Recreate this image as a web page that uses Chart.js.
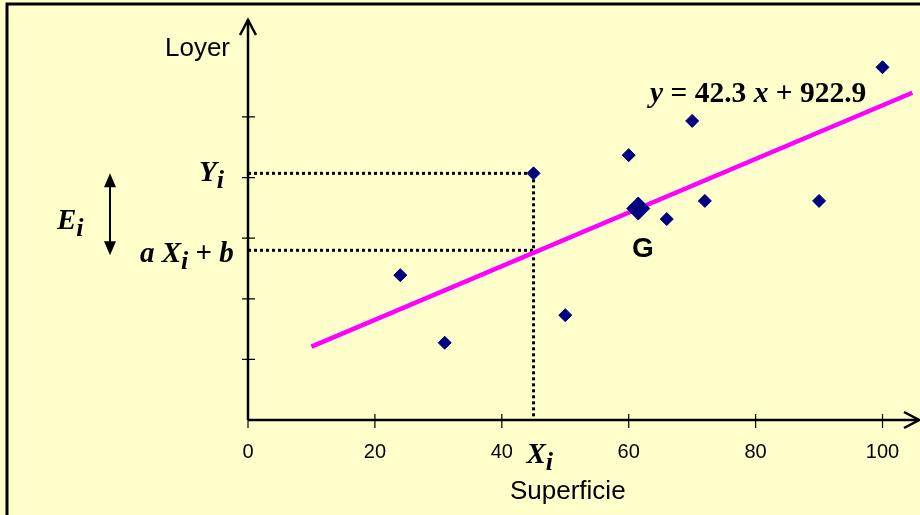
<!DOCTYPE html>
<html>
<head>
<meta charset="utf-8">
<script src="https://cdn.jsdelivr.net/npm/chart.js@4.4.1/dist/chart.umd.min.js"></script>
<style>
  html, body { margin: 0; padding: 0; background: #ffffcc; }
  canvas { display: block; }
</style>
</head>
<body>
<canvas id="regChart" width="920" height="515"></canvas>
<script>
// values
const superficie = [24, 31, 45, 50, 60, 66, 70, 72, 90, 100];
const loyer = [2390, 1275, 4070, 1730, 4370, 3315, 4935, 3615, 3615, 5820];
const pointG = { x: 61.5, y: 3490 };
const trendX = [10, 104.7];
const trendY = [1210, 5400];
const xTickValues = [0, 20, 40, 60, 80, 100];
const yTickValues = [1000, 2000, 3000, 4000, 5000];
const xi = 45;
const yi = 4070;
const fitted = 2800;
const slope = 42.3;
const intercept = 922.9;

const serif = '"Times New Roman", "Liberation Serif", serif';
const sans = 'Arial, "Liberation Sans", sans-serif';

function richText(ctx, parts, x, y) {
  for (const [t, f, dy] of parts) {
    ctx.font = f;
    ctx.fillText(t, x, y + (dy || 0));
    x += ctx.measureText(t).width;
  }
}

const decor = {
  id: 'decor',
  beforeDraw(chart) {
    const ctx = chart.ctx;
    ctx.save();
    ctx.fillStyle = '#ffffcc';
    ctx.fillRect(0, 0, chart.width, chart.height);
    // frame (right and bottom edges fall outside the picture)
    ctx.strokeStyle = '#000';
    ctx.lineWidth = 3;
    ctx.beginPath();
    ctx.moveTo(7, 520);
    ctx.lineTo(7, 4);
    ctx.lineTo(925, 4);
    ctx.stroke();
    ctx.restore();
  },
  beforeDatasetsDraw(chart) {
    const ctx = chart.ctx;
    const xs = chart.scales.x, ys = chart.scales.y;
    const area = chart.chartArea;
    const x0 = xs.getPixelForValue(0), y0 = ys.getPixelForValue(0);
    ctx.save();
    ctx.strokeStyle = '#000';
    ctx.lineWidth = 2.5;
    ctx.beginPath();
    ctx.moveTo(x0, y0);
    ctx.lineTo(x0, area.top);
    ctx.moveTo(x0, y0);
    ctx.lineTo(area.right, y0);
    ctx.stroke();
    // open arrow heads
    ctx.beginPath();
    ctx.moveTo(x0 - 8, area.top + 15);
    ctx.lineTo(x0, area.top);
    ctx.lineTo(x0 + 8, area.top + 15);
    ctx.moveTo(area.right - 15, y0 - 8);
    ctx.lineTo(area.right, y0);
    ctx.lineTo(area.right - 15, y0 + 8);
    ctx.stroke();
    // tick marks crossing the axes
    ctx.lineWidth = 1.2;
    ctx.beginPath();
    for (const v of yTickValues) {
      const p = ys.getPixelForValue(v);
      ctx.moveTo(x0 - 6, p);
      ctx.lineTo(x0 + 7, p);
    }
    for (const v of xTickValues) {
      const p = xs.getPixelForValue(v);
      ctx.moveTo(p, y0 - 6);
      ctx.lineTo(p, y0 + 8);
    }
    ctx.stroke();
    ctx.restore();
  },
  afterDraw(chart) {
    const ctx = chart.ctx;
    const xs = chart.scales.x, ys = chart.scales.y;
    const x0 = xs.getPixelForValue(0);
    ctx.save();
    ctx.fillStyle = '#000';

    // axis titles
    ctx.font = '26px ' + sans;
    ctx.textAlign = 'center';
    ctx.textBaseline = 'middle';
    ctx.fillText('Superficie', xs.getPixelForValue(50.4), 492);

    ctx.textBaseline = 'alphabetic';
    ctx.textAlign = 'right';
    ctx.fillText('Loyer', x0 - 18, 56);

    ctx.textAlign = 'left';
    const bi = 'italic bold 29.5px ' + serif, b = 'bold 29.5px ' + serif;
    richText(ctx, [['y', bi], [' = ' + slope + ' ', b], ['x', bi], [' + ' + intercept, b]], 650, 102);

    ctx.font = 'bold 28px ' + sans;
    ctx.textAlign = 'center';
    ctx.fillText('G', 643, 257);
    ctx.textAlign = 'left';

    const L = 'italic bold 29px ' + serif, S = 'italic bold 26px ' + serif, U = 'bold 29px ' + serif;
    const pyi = ys.getPixelForValue(yi), pfit = ys.getPixelForValue(fitted);
    richText(ctx, [['Y', L], ['i', S, 7]], 199, pyi + 8);
    richText(ctx, [['a ', L], ['X', L], ['i', S, 7], [' + ', U], ['b', L]], 140, pfit + 12);
    richText(ctx, [['E', L], ['i', S, 7]], 57, 229);
    richText(ctx, [['X', L], ['i', S, 7]], xs.getPixelForValue(xi) - 7, 463);

    // double-headed arrow for the residual
    const ax = 110, top = pyi, bot = pfit + 5;
    ctx.strokeStyle = '#000';
    ctx.lineWidth = 2;
    ctx.beginPath();
    ctx.moveTo(ax, top + 10);
    ctx.lineTo(ax, bot - 10);
    ctx.stroke();
    ctx.beginPath();
    ctx.moveTo(ax, top);
    ctx.lineTo(ax - 6, top + 14);
    ctx.lineTo(ax + 6, top + 14);
    ctx.closePath();
    ctx.moveTo(ax, bot);
    ctx.lineTo(ax - 6, bot - 14);
    ctx.lineTo(ax + 6, bot - 14);
    ctx.closePath();
    ctx.fill();
    ctx.restore();
  }
};

const dotted = { borderColor: '#000', borderWidth: 3, borderDash: [3, 3], showLine: true, pointRadius: 0, fill: false, order: 3 };

new Chart(document.getElementById('regChart'), {
  type: 'scatter',
  data: {
    datasets: [
      {
        data: superficie.map((x, i) => ({ x, y: loyer[i] })),
        pointStyle: 'rectRot', pointRadius: 6.5, pointBorderWidth: 1,
        backgroundColor: '#000080', borderColor: '#000080', order: 0
      },
      {
        data: [pointG],
        pointStyle: 'rectRot', pointRadius: 11.5, pointBorderWidth: 1,
        backgroundColor: '#000080', borderColor: '#000080', order: 0
      },
      {
        data: trendX.map((x, i) => ({ x, y: trendY[i] })),
        showLine: true, borderColor: '#ff00ff', borderWidth: 4.5, pointRadius: 0, order: 1
      },
      Object.assign({ data: [{ x: 0, y: yi }, { x: xi, y: yi }] }, dotted),
      Object.assign({ data: [{ x: xi, y: yi }, { x: xi, y: 0 }] }, dotted),
      Object.assign({ data: [{ x: 0, y: fitted }, { x: xi, y: fitted }] }, dotted)
    ]
  },
  options: {
    responsive: false,
    animation: false,
    layout: { autoPadding: false, padding: { left: 248, right: 1, top: 20, bottom: 50.3 } },
    plugins: { legend: { display: false }, tooltip: { enabled: false } },
    scales: {
      x: {
        type: 'linear', min: 0, max: 105.75,
        afterBuildTicks: s => { s.ticks = xTickValues.map(v => ({ value: v })); },
        afterFit: s => { s.paddingLeft = 0; s.paddingRight = 0; },
        border: { display: false },
        grid: { drawOnChartArea: false, drawTicks: true, tickLength: 20.7, color: 'rgba(0,0,0,0)' },
        ticks: { color: '#000', padding: 0, font: { family: sans, size: 20 } }
      },
      y: { type: 'linear', min: 0, max: 6600, display: false }
    }
  },
  plugins: [decor]
});
</script>
</body>
</html>
